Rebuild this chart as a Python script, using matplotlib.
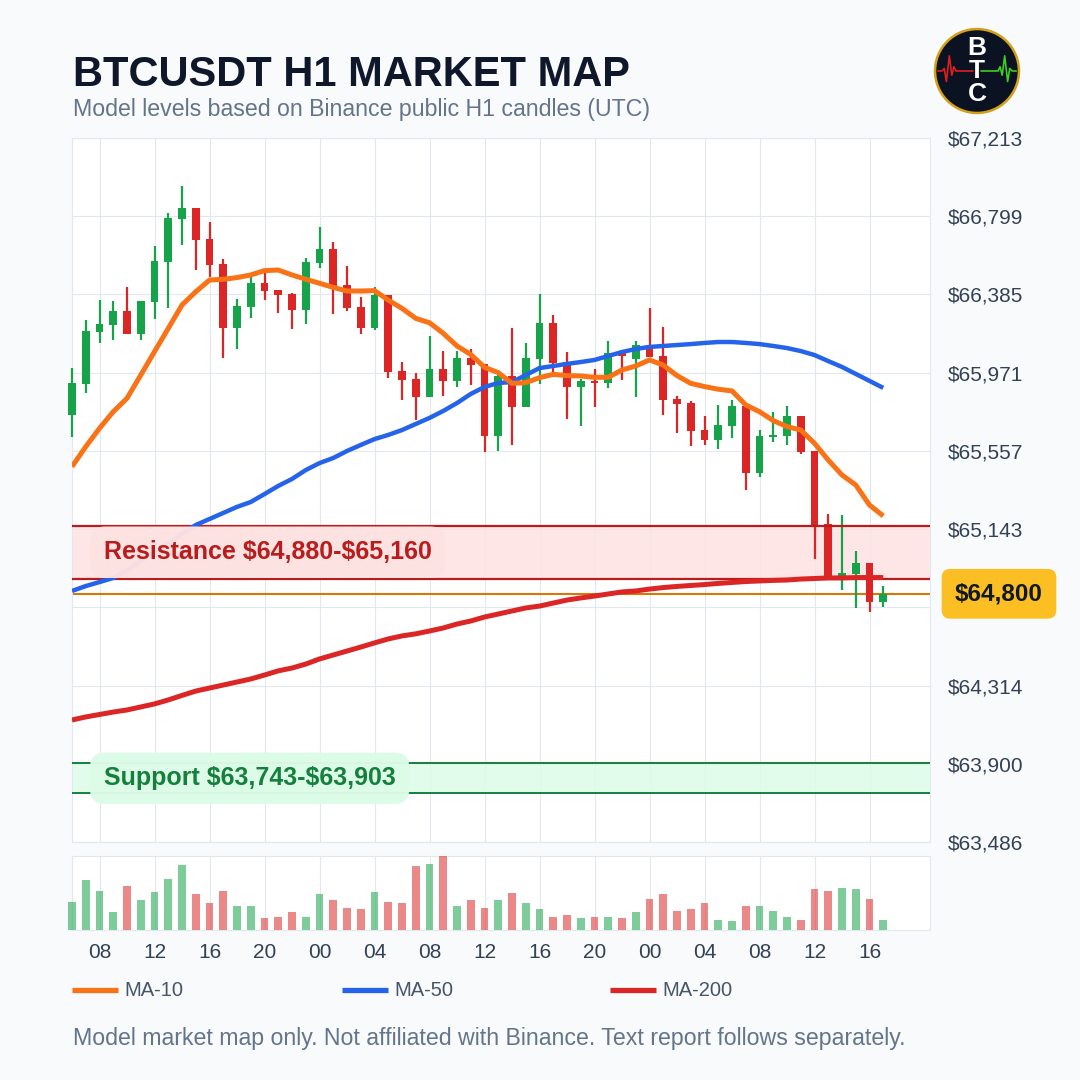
import matplotlib.pyplot as plt
import matplotlib.transforms as mtransforms
from matplotlib.patches import Circle
from matplotlib.lines import Line2D
import numpy as np

plt.rcParams['font.family'] = ['Liberation Sans', 'DejaVu Sans']

# hourly candles, first one opens 06:00 UTC
start_hour = 6
opens = [65747, 65913, 66186, 66223, 66297, 66175, 66345, 66557, 66784, 66842,
         66678, 66546, 66207, 66318, 66445, 66408, 66387, 66302, 66551, 66625,
         66435, 66318, 66207, 66382, 65980, 65937, 65842, 65990, 65927, 66048,
         66017, 65635, 65953, 65789, 66043, 66234, 66027, 65895, 65927, 65916,
         66075, 66043, 66117, 66059, 65831, 65810, 65667, 65614, 65688, 65794,
         65440, 65630, 65636, 65741, 65556, 65170, 64894, 64905, 64963, 64757]
highs = [65994, 66249, 66355, 66350, 66424, 66350, 66641, 66816, 66959, 66842,
         66768, 66572, 66361, 66477, 66514, 66408, 66393, 66578, 66742, 66662,
         66535, 66371, 66424, 66382, 66027, 65969, 66165, 66085, 66085, 66096,
         66017, 65958, 66207, 66128, 66387, 66276, 66080, 65937, 65990, 66138,
         66085, 66138, 66313, 66212, 65847, 65821, 65741, 65800, 65826, 65794,
         65667, 65763, 65794, 65741, 65556, 65222, 65217, 65027, 64963, 64841]
lows = [65632, 65865, 66128, 66144, 66175, 66144, 66255, 66313, 66647, 66514,
        66477, 66048, 66096, 66260, 66355, 66287, 66202, 66228, 66525, 66281,
        66297, 66175, 66197, 65942, 65826, 65720, 65842, 65847, 65895, 65905,
        65551, 65556, 65588, 65789, 65911, 65948, 65725, 65688, 65789, 65890,
        65932, 65842, 66054, 65747, 65651, 65582, 65588, 65567, 65625, 65350,
        65418, 65604, 65588, 65540, 64984, 64889, 64820, 64725, 64704, 64730]
closes = [65914, 66191, 66228, 66297, 66175, 66350, 66562, 66789, 66842, 66673,
          66541, 66207, 66324, 66445, 66403, 66382, 66302, 66557, 66625, 66429,
          66313, 66207, 66382, 65974, 65932, 65842, 65990, 65927, 66048, 66011,
          65635, 65953, 65789, 66048, 66234, 66022, 65895, 65927, 65916, 66075,
          66059, 66117, 66054, 65826, 65805, 65662, 65614, 65694, 65794, 65440,
          65636, 65641, 65741, 65551, 65159, 64889, 64910, 64963, 64757, 64799]
volumes = [38, 68, 53, 25, 60, 40, 52, 69, 88, 49, 36, 53, 33, 33, 16, 18, 24, 18, 49, 41,
           30, 28, 52, 38, 36, 87, 89, 100, 33, 41, 30, 40, 50, 36, 28, 18, 20, 16, 17, 18,
           16, 24, 42, 48, 26, 28, 36, 14, 12, 33, 33, 26, 17, 14, 56, 53, 57, 56, 42, 13]

ma10 = [65473, 65579, 65676, 65764, 65835, 65958, 66082, 66205, 66329, 66399,
        66461, 66465, 66474, 66488, 66511, 66514, 66488, 66465, 66444, 66422,
        66403, 66403, 66405, 66355, 66311, 66258, 66235, 66179, 66112, 66067,
        65999, 65971, 65914, 65918, 65944, 65962, 65955, 65953, 65946, 65946,
        65985, 66006, 66038, 66011, 65955, 65914, 65897, 65883, 65874, 65800,
        65764, 65717, 65685, 65667, 65597, 65508, 65429, 65376, 65270, 65212]
ma50 = [64815, 64841, 64862, 64884, 64925, 64974, 65021, 65069, 65117, 65164,
        65196, 65228, 65260, 65286, 65328, 65371, 65408, 65455, 65492, 65519,
        65556, 65588, 65619, 65641, 65667, 65699, 65731, 65768, 65810, 65858,
        65895, 65916, 65921, 65958, 65995, 66006, 66017, 66027, 66038, 66059,
        66080, 66096, 66107, 66112, 66117, 66122, 66128, 66133, 66133, 66128,
        66122, 66112, 66101, 66085, 66064, 66032, 66001, 65964, 65927, 65890]
ma200 = [64132, 64148, 64161, 64174, 64185, 64201, 64217, 64238, 64262, 64285,
         64301, 64317, 64333, 64349, 64370, 64392, 64407, 64428, 64455, 64476,
         64497, 64518, 64540, 64561, 64577, 64588, 64603, 64619, 64640, 64656,
         64677, 64693, 64709, 64725, 64735, 64751, 64767, 64778, 64788, 64799,
         64810, 64815, 64825, 64833, 64839, 64844, 64849, 64855, 64860, 64865,
         64868, 64871, 64873, 64878, 64881, 64884, 64884, 64886, 64886, 64886]

y_ticks = [63486, 63900, 64314, 64729, 65143, 65557, 65971, 66385, 66799, 67213]
y_labels = ['$63,486', '$63,900', '$64,314', '', '$65,143', '$65,557',
            '$65,971', '$66,385', '$66,799', '$67,213']
last_price = 64800
res_lo, res_hi = 64880, 65160
sup_lo, sup_hi = 63743, 63903

GREEN = '#16a34a'
RED = '#dc2626'
GRID = '#e2e8f0'
TXT = '#334155'

fig = plt.figure(figsize=(10.8, 10.8), dpi=100, facecolor='#f8fafc')
W = 1080.0

def box(x0, y0, x1, y1):
    return [x0 / W, 1 - y1 / W, (x1 - x0) / W, (y1 - y0) / W]

ax = fig.add_axes(box(72, 138, 930, 842))
axv = fig.add_axes(box(72, 856, 930, 930))
blend = mtransforms.blended_transform_factory(ax.transAxes, ax.transData)

idx = np.arange(len(opens))
o = np.array(opens); c = np.array(closes)
colors = [GREEN if cc >= oo else RED for oo, cc in zip(o, c)]

# zones
ax.axhspan(res_lo, res_hi, color='#fee2e2', alpha=0.85, lw=0, zorder=1)
ax.axhline(res_lo, color='#b91c1c', lw=1.6, zorder=4)
ax.axhline(res_hi, color='#b91c1c', lw=1.6, zorder=4)
ax.axhspan(sup_lo, sup_hi, color='#dcfce7', alpha=0.85, lw=0, zorder=1)
ax.axhline(sup_lo, color='#15803d', lw=1.4, zorder=4)
ax.axhline(sup_hi, color='#15803d', lw=1.4, zorder=4)
ax.axhline(last_price, color='#d97706', lw=1.5, zorder=2)

# candles
wk = ax.vlines(idx, lows, highs, colors=colors, lw=1.6, zorder=3)
wk.set_clip_on(False)
bodies = ax.bar(idx, np.maximum(np.abs(c - o), 12), bottom=np.minimum(o, c),
                width=0.58, color=colors, zorder=3)
for p in bodies:
    p.set_clip_on(False)

# moving averages
ax.plot(idx, ma200, color=RED, lw=3.6, zorder=5, solid_capstyle='butt')
ax.plot(idx, ma50, color='#2563eb', lw=3.2, zorder=5, solid_capstyle='butt')
ax.plot(idx, ma10, color='#f97316', lw=3.6, zorder=5, solid_capstyle='butt')

# zone labels
ax.text(0.037, (res_lo + res_hi) / 2, f'Resistance \\${res_lo:,}-\\${res_hi:,}',
        transform=blend, ha='left', va='center', fontsize=18, fontweight='bold',
        color='#b91c1c', zorder=7,
        bbox=dict(boxstyle='round,pad=0.55,rounding_size=0.6', fc='#fde2e2', ec='none', alpha=0.97))
ax.text(0.037, (sup_lo + sup_hi) / 2, f'Support \\${sup_lo:,}-\\${sup_hi:,}',
        transform=blend, ha='left', va='center', fontsize=18, fontweight='bold',
        color='#15803d', zorder=7,
        bbox=dict(boxstyle='round,pad=0.55,rounding_size=0.6', fc='#dcfce7', ec='none', alpha=0.97))

# last price tag
ax.text(1.0804, last_price, f'\\${last_price:,}', transform=blend,
        ha='center', va='center', fontsize=17.5, fontweight='bold', color='#111827',
        clip_on=False, zorder=10,
        bbox=dict(boxstyle='round,pad=0.55,rounding_size=0.35', fc='#fbbf24', ec='none'))

xt = idx[2::4]
xl = [f'{(start_hour + i) % 24:02d}' for i in xt]

ax.set_xlim(0, 62.4)
ax.set_ylim(y_ticks[0], y_ticks[-1])
ax.set_yticks(y_ticks)
ax.set_yticklabels([s.replace('$', '\\$') for s in y_labels])
ax.yaxis.tick_right()
ax.set_xticks(xt)
ax.tick_params(axis='y', length=0, pad=13, labelsize=15, labelcolor=TXT)
ax.tick_params(axis='x', length=0, labelbottom=False)
ax.grid(True, color=GRID, lw=0.8)
ax.set_axisbelow(True)
for s in ax.spines.values():
    s.set_color(GRID)
    s.set_linewidth(0.8)

# volume
vb = axv.bar(idx, volumes, width=0.58, color=colors, alpha=0.55, zorder=3)
for p in vb:
    p.set_clip_on(False)
axv.set_xlim(0, 62.4)
axv.set_ylim(0, 100)
axv.set_yticks([])
axv.set_xticks(xt)
axv.set_xticklabels(xl)
axv.tick_params(axis='x', length=0, pad=9, labelsize=15, labelcolor=TXT)
axv.grid(True, axis='x', color=GRID, lw=0.8)
axv.set_axisbelow(True)
for s in axv.spines.values():
    s.set_color(GRID)
    s.set_linewidth(0.8)

# titles
fig.text(73 / W, 1 - 86 / W, 'BTCUSDT H1 MARKET MAP', fontsize=30, fontweight='bold',
         color='#0f172a', va='baseline')
fig.text(73 / W, 1 - 116 / W, 'Model levels based on Binance public H1 candles (UTC)',
         fontsize=16.7, color='#64748b', va='baseline')
fig.text(73 / W, 1 - 1045 / W,
         'Model market map only. Not affiliated with Binance. Text report follows separately.',
         fontsize=16.7, color='#64748b', va='baseline')

# legend
for x0, col, lab in [(72, '#f97316', 'MA-10'), (342, '#2563eb', 'MA-50'), (610, RED, 'MA-200')]:
    fig.add_artist(Line2D([x0 / W, (x0 + 46) / W], [1 - 990 / W] * 2, color=col, lw=3.8,
                          solid_capstyle='butt'))
    fig.text((x0 + 52) / W, 1 - 990 / W, lab, fontsize=14.5, color='#475569', va='center')

# logo
lg = fig.add_axes(box(930, 24, 1024, 118))
lg.set_xlim(-1.12, 1.12)
lg.set_ylim(-1.12, 1.12)
lg.set_aspect('equal')
lg.axis('off')
lg.add_patch(Circle((0, 0), 1.0, fc='#0b1222', ec='#d4a017', lw=1.8))
hx = [0.1, 0.5, 0.55, 0.6, 0.66, 0.73, 0.78, 0.84, 0.93]
hy = [0, 0, 0.1, -0.1, 0.36, -0.25, 0.06, 0, 0]
lg.plot([-v for v in hx], hy, color='#e11d1d', lw=1.2)
lg.plot(hx, hy, color='#3ccf1e', lw=1.2)
for yy, ch in [(0.55, 'B'), (0.0, 'T'), (-0.55, 'C')]:
    lg.text(0, yy, ch, ha='center', va='center', fontsize=19, fontweight='bold', color='white')

fig.savefig('out.png', dpi=100, facecolor=fig.get_facecolor())
